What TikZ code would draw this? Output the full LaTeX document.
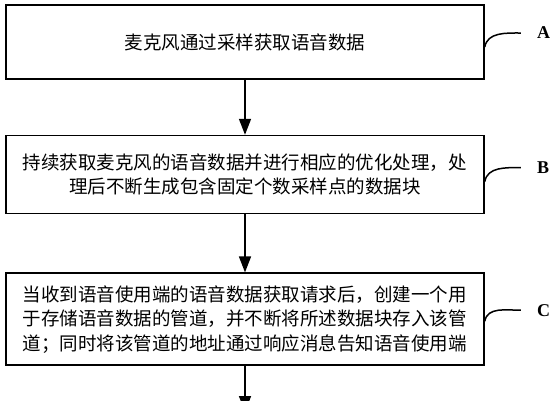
\documentclass[tikz,border=0pt]{standalone}
\usepackage{fontspec}
\setmainfont{Liberation Serif}
\newfontfamily\cjkfont{Noto Sans CJK SC}
\usetikzlibrary{positioning,arrows.meta}

\begin{document}
\begin{tikzpicture}[x=1pt,y=1pt,
    stepbox/.style={draw,line width=1.6pt,minimum width=478pt,inner sep=0pt,
      align=center,font=\cjkfont\fontsize{18.5}{24.5}\selectfont},
    tag/.style={font=\bfseries\fontsize{18}{18}\selectfont,inner sep=0pt},
    flow/.style={-{Triangle[length=16pt,width=12pt]},line width=1.5pt},
    hook/.style={line width=1.5pt}]
  \useasboundingbox (0,0) rectangle (555,-400);
  \node[stepbox,minimum height=74pt] (s_A) at (245,-42) {麦克风通过采样获取语音数据};
  \node[stepbox,minimum height=78pt] (s_B) [below=55pt of s_A]
    {持续获取麦克风的语音数据并进行相应的优化处理，处\\理后不断生成包含固定个数采样点的数据块};
  \node[stepbox,minimum height=92pt] (s_C) [below=58pt of s_B]
    {当收到语音使用端的语音数据获取请求后，创建一个用\\于存储语音数据的管道，并不断将所述数据块存入该管\\道；同时将该管道的地址通过响应消息告知语音使用端};
  \coordinate[below=46pt of s_C] (s_end);
  \node[tag] (t_A) [right=52pt of s_A.east,yshift=9pt] {A};
  \node[tag] (t_B) [right=52pt of s_B.east,yshift=7pt] {B};
  \node[tag] (t_C) [right=52pt of s_C.east,yshift=9pt] {C};
  \path[flow]
    (s_A) edge (s_B)
    (s_B) edge (s_C)
    (s_C) edge (s_end)
    ; %end path
  \path[hook]
    ([yshift=-5pt]s_A.east) edge[out=80,in=180] ([xshift=-16pt]t_A.west)
    ([yshift=-7pt]s_B.east) edge[out=80,in=180] ([xshift=-16pt]t_B.west)
    ([yshift=-2pt]s_C.east) edge[out=80,in=180] ([xshift=-16pt]t_C.west)
    ; %end path
\end{tikzpicture}
\end{document}
